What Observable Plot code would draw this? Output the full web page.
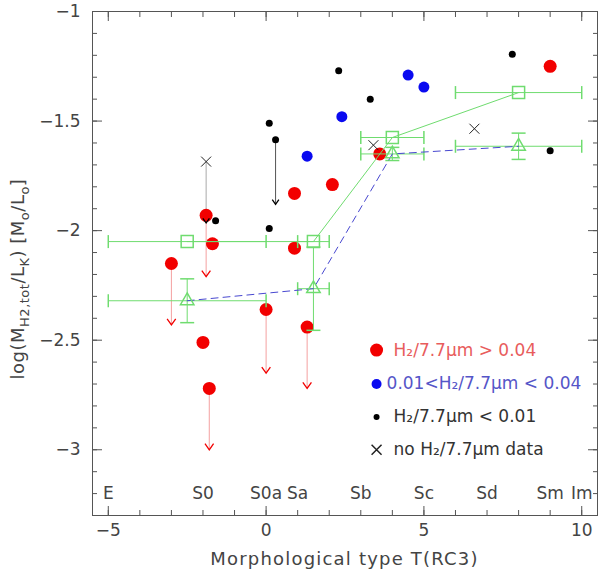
<!DOCTYPE html>
<html>
<head>
<meta charset="utf-8">
<script src="https://cdn.jsdelivr.net/npm/d3@7"></script>
<script src="https://cdn.jsdelivr.net/npm/@observablehq/plot@0.6"></script>
<style>
  body { margin: 0; background: #fff; }
  #chart svg text { font-family: "DejaVu Sans", sans-serif; }
</style>
</head>
<body>
<div id="chart"></div>
<script>
// galaxies with H2/7.7um > 0.04
const redX = [9.0, 3.6, 0.9, 2.1, -1.9, -1.7, 0.9, -3.0, 0.0, 1.3, -2.0, -1.8];
const redY = [-1.25, -1.65, -1.83, -1.79, -1.93, -2.06, -2.08, -2.15, -2.36, -2.44, -2.51, -2.72];
// upper limits on the red ones
const redLimX = [-1.9, -3.0, 0.0, 1.3, -1.8];
const redLimFrom = [-1.93, -2.15, -2.36, -2.44, -2.72];
const redLimTo = [-2.21, -2.43, -2.65, -2.72, -3.0];
// 0.01 < H2/7.7um < 0.04
const blueX = [4.5, 5.0, 2.4, 1.3];
const blueY = [-1.29, -1.345, -1.48, -1.66];
// H2/7.7um < 0.01
const blackX = [7.8, 2.3, 3.3, 0.1, 0.3, 9.0, -1.6, 0.1];
const blackY = [-1.195, -1.27, -1.40, -1.51, -1.585, -1.635, -1.955, -1.99];
const blackLimX = [0.3];
const blackLimFrom = [-1.585];
const blackLimTo = [-1.88];
// no H2/7.7um data
const crossX = [-1.9, 3.4, 6.6];
const crossY = [-1.685, -1.61, -1.535];
const crossLimX = [-1.9];
const crossLimFrom = [-1.685];
const crossLimTo = [-1.965];
// binned values: squares (mean) and triangles (median)
const binX = [-2.5, 1.5, 4, 8];
const binLo = [-5, 1, 3, 6];
const binHi = [0, 2, 5, 10];
const squareY = [-2.05, -2.05, -1.575, -1.37];
const triY = [-2.32, -2.265, -1.65, -1.615];
const triErr = [0.10, 0.19, 0.03, 0.06];
// morphological type names
const typeX = [-5, -2, 0, 1, 3, 5, 7, 9, 10];
const typeNames = ["E", "S0", "S0a", "Sa", "Sb", "Sc", "Sd", "Sm", "Im"];
// axes
const xTicks = [-5, 0, 5, 10];
const xMinor = [-5, -4, -3, -2, -1, 0, 1, 2, 3, 4, 5, 6, 7, 8, 9, 10];
const yTicks = [-3, -2.5, -2, -1.5, -1];
const yMinor = d3.range(-33, -9).map(d => d / 10);
const legendLabels = ["H₂/7.7μm > 0.04", "0.01<H₂/7.7μm < 0.04", "H₂/7.7μm < 0.01", "no H₂/7.7μm data"];

const RED = "#f20000", BLUE = "#0a0af0", GREEN = "#6fdc6f", AXIS = "#555";

const pts = (xs, ys) => xs.map((x, i) => ({x, y: ys[i]}));
const lims = (xs, a, b) => xs.map((x, i) => ({x, y1: a[i], y2: b[i]}));
const bins = binX.map((x, i) => ({x, lo: binLo[i], hi: binHi[i], sq: squareY[i], tri: triY[i], err: triErr[i]}));

// custom symbols: error bar caps and open arrow head
const capV = {draw(c, s) { const h = Math.sqrt(s / Math.PI); c.moveTo(0, -h); c.lineTo(0, h); }};
const capH = {draw(c, s) { const h = Math.sqrt(s / Math.PI); c.moveTo(-h, 0); c.lineTo(h, 0); }};
const chevron = {draw(c, s) { const h = Math.sqrt(s / Math.PI); c.moveTo(-h, -h * 1.4); c.lineTo(0, 0); c.lineTo(h, -h * 1.4); }};

const minus = d => String(d).replace("-", "−");

const legX = 3.5;
const legY = [-2.545, -2.70, -2.85, -3.0];

const plot = Plot.plot({
  width: 600,
  height: 572,
  marginLeft: 92,
  marginRight: 3,
  marginTop: 11,
  marginBottom: 57,
  x: {domain: [-5.5, 10.5]},
  y: {domain: [-3.3, -1]},
  style: {fontFamily: '"DejaVu Sans", sans-serif', fontSize: "17px", color: "#444", background: "#fff"},
  marks: [
    // ticks inside the frame, all four sides
    Plot.axisX(xMinor, {anchor: "bottom", tickSize: -5, tickFormat: () => "", label: null, stroke: AXIS}),
    Plot.axisX(xTicks, {anchor: "bottom", tickSize: -9, tickFormat: () => "", label: null, stroke: AXIS}),
    Plot.axisX(xMinor, {anchor: "top", tickSize: -5, tickFormat: () => "", label: null, stroke: AXIS}),
    Plot.axisX(xTicks, {anchor: "top", tickSize: -9, tickFormat: () => "", label: null, stroke: AXIS}),
    Plot.axisY(yMinor, {anchor: "left", tickSize: -5, tickFormat: () => "", label: null, stroke: AXIS}),
    Plot.axisY(yTicks, {anchor: "left", tickSize: -10, tickFormat: () => "", label: null, stroke: AXIS}),
    Plot.axisY(yMinor, {anchor: "right", tickSize: -5, tickFormat: () => "", label: null, stroke: AXIS}),
    Plot.axisY(yTicks, {anchor: "right", tickSize: -10, tickFormat: () => "", label: null, stroke: AXIS}),
    // tick labels
    Plot.axisX(xTicks, {anchor: "bottom", tickSize: 0, tickPadding: 8, tickFormat: minus, label: null}),
    Plot.axisY(yTicks, {anchor: "left", tickSize: 0, tickPadding: 12, tickFormat: minus, label: null}),
    Plot.frame({stroke: AXIS}),

    // morphological type names along the bottom
    Plot.text(typeX, {x: d => d, y: -3.2, text: (d, i) => typeNames[i], fill: "#444"}),

    // upper-limit shafts
    Plot.link(lims(crossLimX, crossLimFrom, crossLimTo), {x1: "x", x2: "x", y1: "y1", y2: "y2", stroke: "#aaa"}),
    Plot.link(lims(blackLimX, blackLimFrom, blackLimTo), {x1: "x", x2: "x", y1: "y1", y2: "y2", stroke: "#555"}),
    Plot.link(lims(redLimX, redLimFrom, redLimTo), {x1: "x", x2: "x", y1: "y1", y2: "y2", stroke: "#f4a0a0"}),

    // galaxies
    Plot.dot(pts(redX, redY), {x: "x", y: "y", r: 6.5, fill: RED}),
    Plot.dot(pts(blueX, blueY), {x: "x", y: "y", r: 5.5, fill: BLUE}),
    Plot.dot(pts(blackX, blackY), {x: "x", y: "y", r: 3.5, fill: "#000"}),
    Plot.dot(pts(crossX, crossY), {x: "x", y: "y", r: 4.6, symbol: "times", stroke: "#222", strokeWidth: 1}),

    // arrow heads
    Plot.dot(lims(redLimX, redLimFrom, redLimTo), {x: "x", y: "y2", r: 4.3, symbol: chevron, fill: "none", stroke: RED, strokeWidth: 1.3}),
    Plot.dot(lims(blackLimX, blackLimFrom, blackLimTo), {x: "x", y: "y2", r: 3.3, symbol: chevron, fill: "none", stroke: "#000", strokeWidth: 1.3}),
    Plot.dot(lims(crossLimX, crossLimFrom, crossLimTo), {x: "x", y: "y2", r: 3.3, symbol: chevron, fill: "none", stroke: "#000", strokeWidth: 1.3}),

    // binned averages with error bars
    Plot.link(bins, {x1: "lo", x2: "hi", y1: "sq", y2: "sq", stroke: GREEN}),
    Plot.link(bins, {x1: "lo", x2: "hi", y1: "tri", y2: "tri", stroke: GREEN}),
    Plot.dot(bins, {x: "lo", y: "sq", r: 6.5, symbol: capV, fill: "none", stroke: GREEN}),
    Plot.dot(bins, {x: "hi", y: "sq", r: 6.5, symbol: capV, fill: "none", stroke: GREEN}),
    Plot.dot(bins, {x: "lo", y: "tri", r: 6.5, symbol: capV, fill: "none", stroke: GREEN}),
    Plot.dot(bins, {x: "hi", y: "tri", r: 6.5, symbol: capV, fill: "none", stroke: GREEN}),
    Plot.link(bins, {x1: "x", x2: "x", y1: d => d.tri - d.err, y2: d => d.tri + d.err, stroke: GREEN}),
    Plot.dot(bins, {x: "x", y: d => d.tri - d.err, r: 7, symbol: capH, fill: "none", stroke: GREEN}),
    Plot.dot(bins, {x: "x", y: d => d.tri + d.err, r: 7, symbol: capH, fill: "none", stroke: GREEN}),
    Plot.line(bins, {x: "x", y: "sq", stroke: GREEN, strokeWidth: 1}),
    Plot.line(bins, {x: "x", y: "tri", stroke: "#4848d0", strokeWidth: 1, strokeDasharray: "7 5"}),
    Plot.dot(bins, {x: "x", y: "sq", r: 6.8, symbol: "square", fill: "none", stroke: GREEN}),
    Plot.dot(bins, {x: "x", y: "tri", r: 5, symbol: "triangle", fill: "none", stroke: GREEN}),

    // legend
    Plot.dot([legY[0]], {x: legX, y: d => d, r: 6.5, fill: RED}),
    Plot.dot([legY[1]], {x: legX, y: d => d, r: 5, fill: BLUE}),
    Plot.dot([legY[2]], {x: legX, y: d => d, r: 3, fill: "#000"}),
    Plot.dot([legY[3]], {x: legX, y: d => d, r: 4.6, symbol: "times", stroke: "#222"}),
    Plot.text([legendLabels[0]], {x: legX, y: legY[0], text: d => d, dx: 17, textAnchor: "start", fill: "#e85c5c"}),
    Plot.text([legendLabels[1]], {x: legX, y: legY[1], text: d => d, dx: 10, textAnchor: "start", fill: "#5555c8"}),
    Plot.text([legendLabels[2]], {x: legX, y: legY[2], text: d => d, dx: 17, textAnchor: "start", fill: "#333"}),
    Plot.text([legendLabels[3]], {x: legX, y: legY[3], text: d => d, dx: 17, textAnchor: "start", fill: "#333"})
  ]
});

const svg = d3.select(plot);
const xs = plot.scale("x");

// x label
svg.append("text")
  .attr("x", (xs.range[0] + xs.range[1]) / 2)
  .attr("y", 565)
  .attr("text-anchor", "middle")
  .attr("fill", "#444")
  .style("font-size", "18px")
  .style("letter-spacing", "1.2px")
  .text("Morphological type T(RC3)");

// y label with subscripts, drawn by hand since Plot labels are plain strings
const yl = svg.append("text")
  .attr("transform", "translate(24,279) rotate(-90)")
  .attr("text-anchor", "middle")
  .attr("fill", "#444")
  .style("font-size", "18px")
  .style("letter-spacing", "0.5px");
const parts = [["log(M"], ["H2,tot", 1], ["/L"], ["K", 1], [") [M"], ["o", 1], ["/L"], ["o", 1], ["]"]];
let shifted = false;
for (const [t, sub] of parts) {
  const ts = yl.append("tspan").text(t);
  if (sub) { ts.attr("dy", 5).style("font-size", "13px"); shifted = true; }
  else if (shifted) { ts.attr("dy", -5); shifted = false; }
}

document.getElementById("chart").append(plot);
</script>
</body>
</html>
